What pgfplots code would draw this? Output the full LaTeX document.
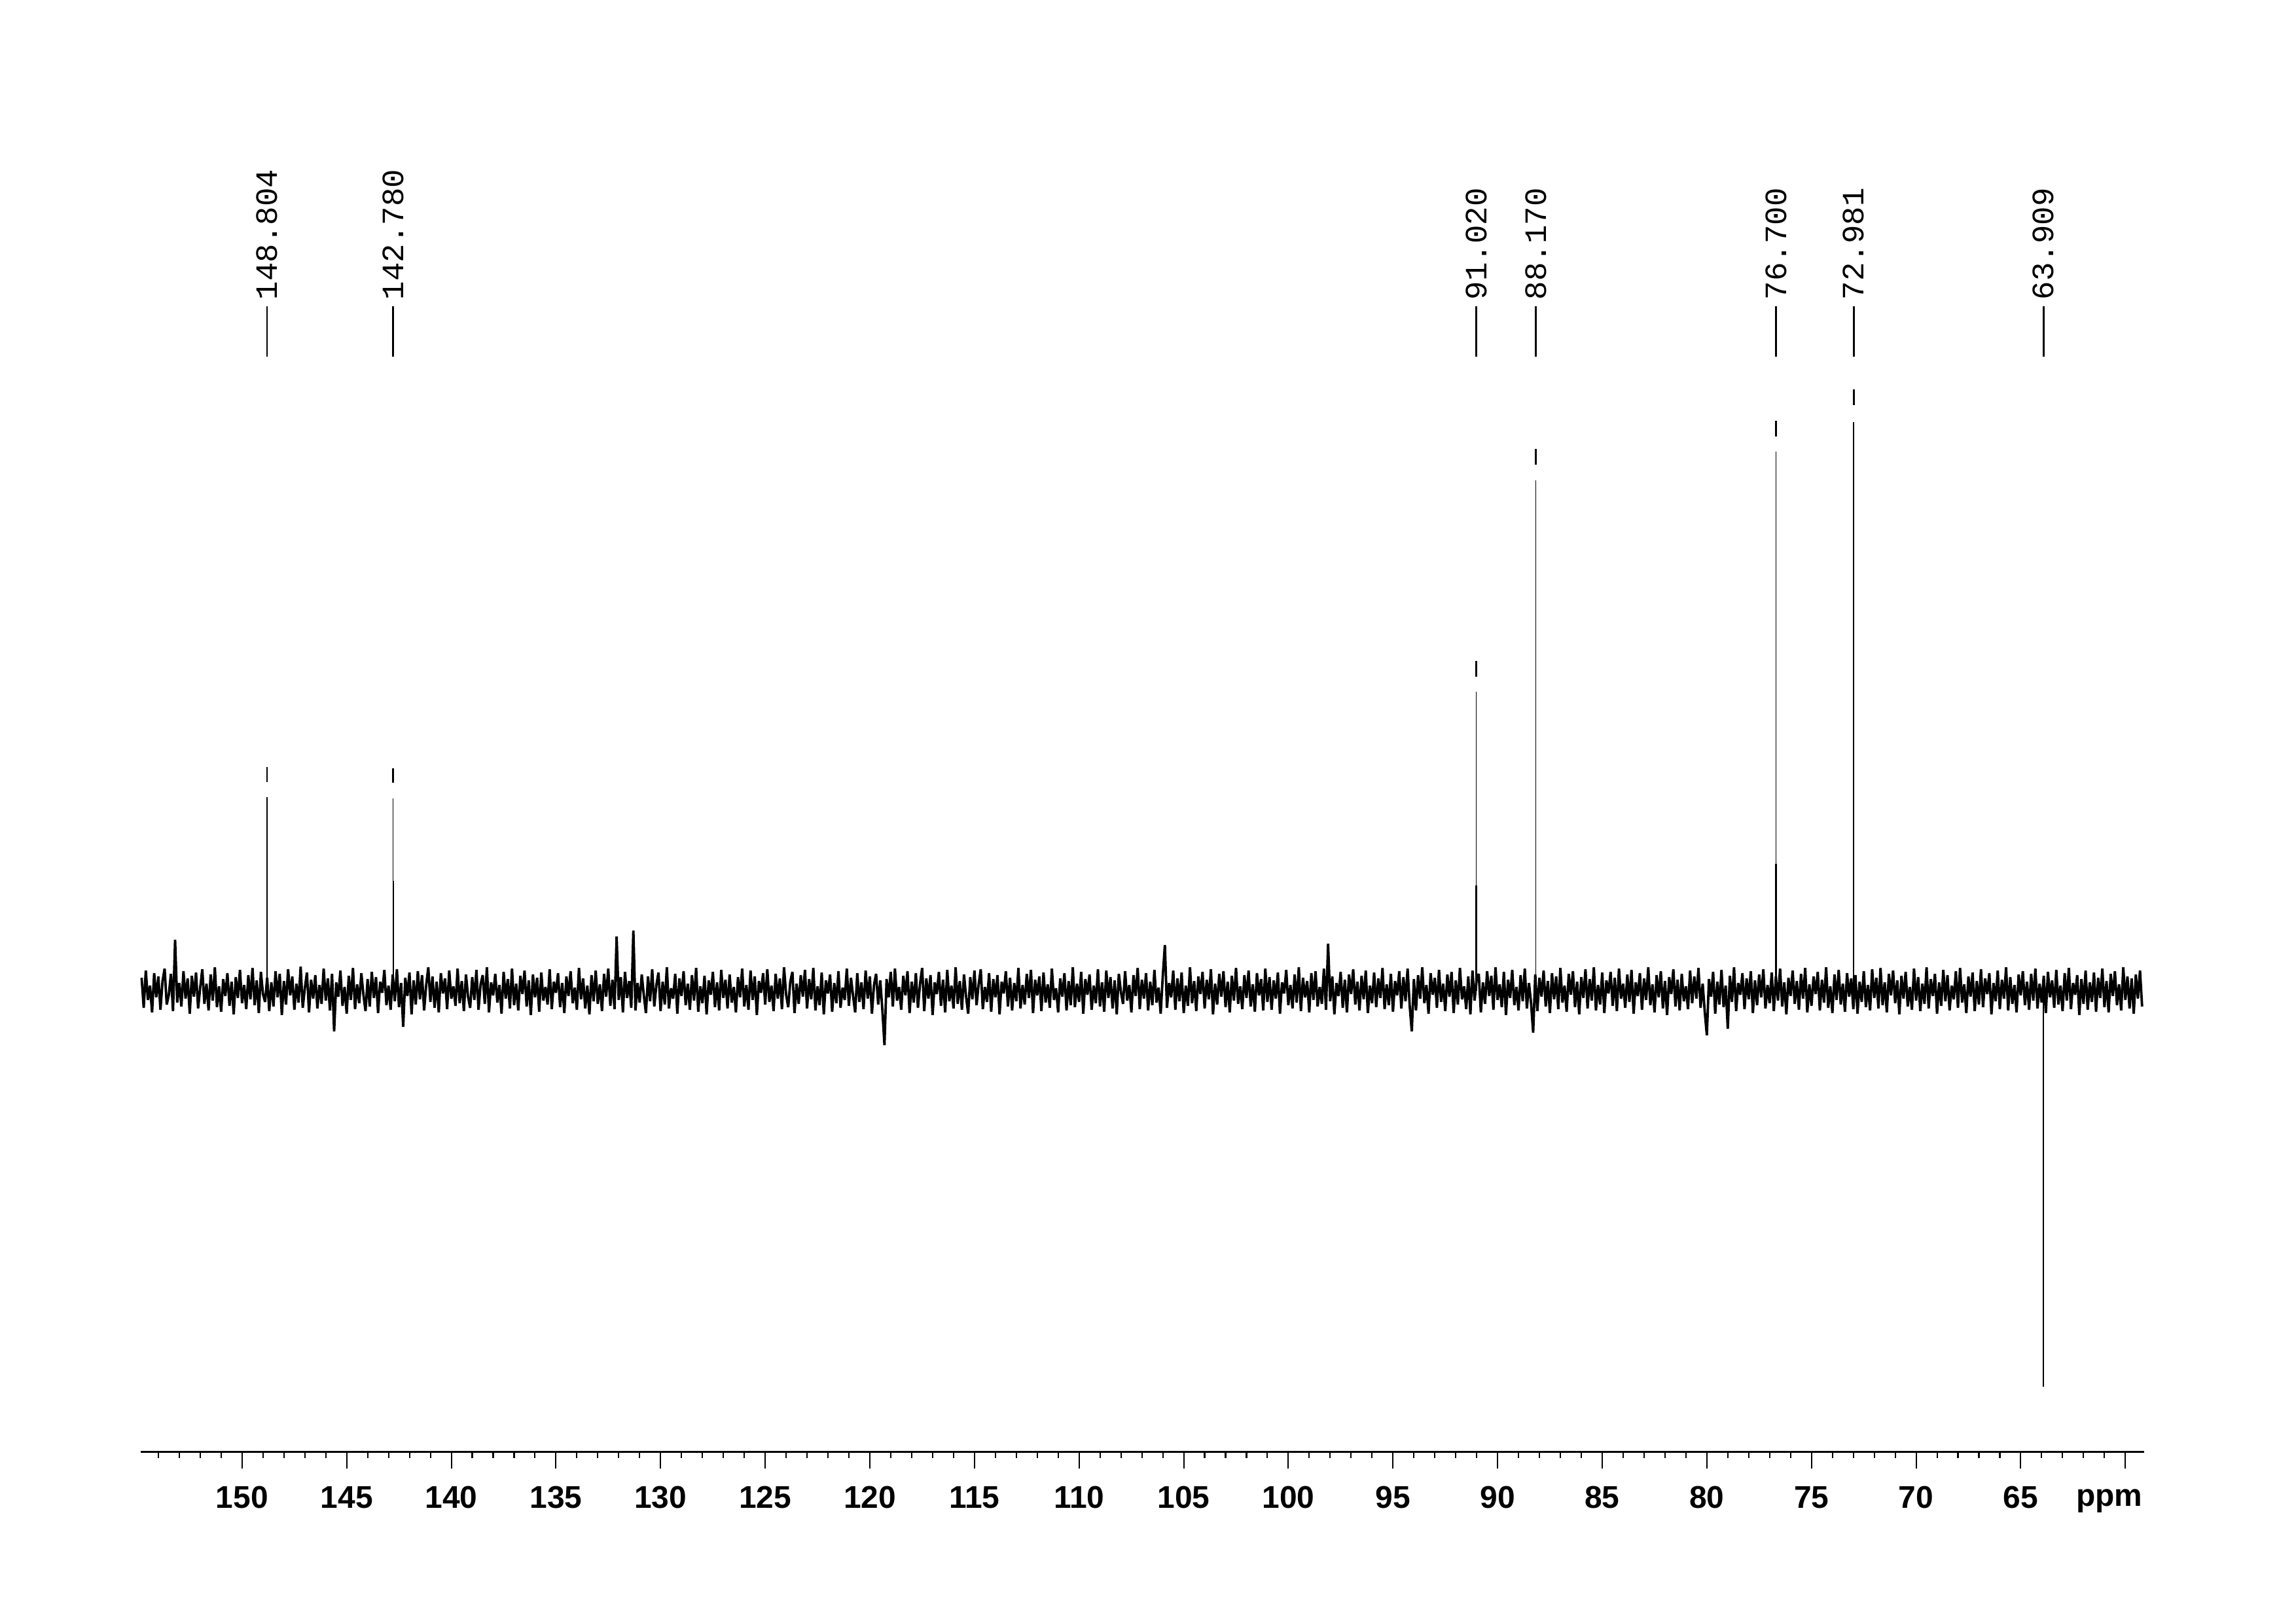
\documentclass[border=0pt]{standalone}
\usepackage{fontspec}
\setmainfont{Liberation Sans}
\newfontfamily\monofont{Liberation Mono}
\usepackage{pgfplots}
\pgfplotsset{compat=1.18}
\usepackage{pgfplotstable}

\pgfplotstableread{
x y
154.8 20
154.7 -26
154.6 31
154.5 -14
154.4 8
154.3 -33
154.2 27
154.1 -10
154.0 22
153.9 -29
153.8 15
153.7 34
153.6 -21
153.5 -6
153.4 26
153.3 -31
153.2 78
153.1 -18
153.0 12
152.9 -24
152.8 30
152.7 -12
152.6 19
152.5 -35
152.4 23
152.3 -9
152.2 28
152.1 -27
152.0 5
151.9 33
151.8 -20
151.7 11
151.6 -30
151.5 25
151.4 -15
151.3 36
151.2 -25
151.1 7
151.0 -32
150.9 18
150.8 -8
150.7 27
150.6 -23
150.5 14
150.4 -36
150.3 21
150.2 -11
150.1 32
150.0 -19
149.9 9
149.8 -28
149.7 24
149.6 -13
149.5 35
149.4 -22
149.3 16
149.2 -34
149.1 29
149.0 -5
148.9 -17
148.8 20
148.7 -31
148.6 13
148.5 -24
148.4 30
148.3 -10
148.2 26
148.1 -37
148.0 15
147.9 -21
147.8 33
147.7 -7
147.6 22
147.5 -29
147.4 11
147.3 -18
147.2 37
147.1 -26
147.0 4
146.9 28
146.8 -33
146.7 17
146.6 -12
146.5 24
146.4 -27
146.3 9
146.2 -20
146.1 34
146.0 -15
145.9 19
145.8 -30
145.7 26
145.6 -62
145.5 13
145.4 -9
145.3 31
145.2 -23
145.1 6
145.0 -35
144.9 23
144.8 -14
144.7 35
144.6 -28
144.5 10
144.4 -19
144.3 27
144.2 -6
144.1 -31
144.0 18
143.9 -24
143.8 29
143.7 -11
143.6 21
143.5 -34
143.4 14
143.3 -3
143.2 32
143.1 -22
143.0 8
142.9 -29
142.8 25
142.7 -16
142.6 33
142.5 -25
142.4 12
142.3 -55
142.2 20
142.1 -8
142.0 28
141.9 -36
141.8 16
141.7 -21
141.6 30
141.5 -13
141.4 24
141.3 -30
141.2 9
141.1 36
141.0 -17
140.9 22
140.8 -26
140.7 14
140.6 -33
140.5 27
140.4 -4
140.3 19
140.2 -28
140.1 31
140.0 -12
139.9 7
139.8 -23
139.7 34
139.6 -19
139.5 15
139.4 -31
139.3 25
139.2 -9
139.1 -26
139.0 21
138.9 -14
138.8 32
138.7 -29
138.6 10
138.5 24
138.4 -20
138.3 36
138.2 -33
138.1 13
138.0 -7
137.9 26
137.8 -18
137.7 9
137.6 -35
137.5 29
137.4 -12
137.3 18
137.2 -27
137.1 34
137.0 -22
136.9 11
136.8 -30
136.7 23
136.6 -5
136.5 31
136.4 -24
136.3 16
136.2 -37
136.1 25
136.0 -10
135.9 20
135.8 -32
135.7 28
135.6 -15
135.5 6
135.4 -21
135.3 33
135.2 -28
135.1 14
135.0 -3
134.9 27
134.8 -25
134.7 12
134.6 -34
134.5 22
134.4 -8
134.3 30
134.2 -19
134.1 5
134.0 -29
133.9 35
133.8 -13
133.7 19
133.6 -27
133.5 8
133.4 -36
133.3 24
133.2 -16
133.1 31
133.0 -20
132.9 10
132.8 -31
132.7 26
132.6 -9
132.5 34
132.4 -23
132.3 17
132.2 -28
132.1 83
132.0 -14
131.9 21
131.8 -33
131.7 29
131.6 -11
131.5 15
131.4 -26
131.3 92
131.2 -30
131.1 12
131.0 -18
130.9 25
130.8 -7
130.7 -34
130.6 22
130.5 -16
130.4 33
130.3 -24
130.2 9
130.1 28
130.0 -31
129.9 14
129.8 -21
129.7 36
129.6 -27
129.5 4
129.4 -12
129.3 26
129.2 -35
129.1 19
129.0 -8
128.9 30
128.8 -22
128.7 11
128.6 -29
128.5 24
128.4 -15
128.3 35
128.2 -32
128.1 7
128.0 -19
127.9 23
127.8 -36
127.7 16
127.6 -6
127.5 29
127.4 -25
127.3 13
127.2 -30
127.1 32
127.0 -11
126.9 17
126.8 -27
126.7 25
126.6 -18
126.5 6
126.4 -33
126.3 21
126.2 -10
126.1 34
126.0 -24
125.9 9
125.8 -29
125.7 31
125.6 -14
125.5 22
125.4 -37
125.3 15
125.2 -3
125.1 27
125.0 -21
124.9 33
124.8 -17
124.7 8
124.6 -31
124.5 26
124.4 -12
124.3 19
124.2 -28
124.1 36
124.0 -6
123.9 -25
123.8 14
123.7 29
123.6 -34
123.5 11
123.4 -20
123.3 24
123.2 -9
123.1 32
123.0 -27
122.9 18
122.8 -13
122.7 35
122.6 -30
122.5 7
122.4 -22
122.3 28
122.2 -36
122.1 16
122.0 -4
121.9 25
121.8 -32
121.7 12
121.6 -19
121.5 30
121.4 -26
121.3 5
121.2 -14
121.1 34
121.0 -23
120.9 20
120.8 -8
120.7 -33
120.6 27
120.5 -17
120.4 13
120.3 -28
120.2 31
120.1 -12
120.0 22
119.9 -35
119.8 9
119.7 26
119.6 -21
119.5 16
119.4 -30
119.3 -83
119.2 18
119.1 -10
119.0 29
118.9 -24
118.8 34
118.7 -15
118.6 6
118.5 -29
118.4 23
118.3 -7
118.2 30
118.1 -34
118.0 14
117.9 -18
117.8 27
117.7 -26
117.6 11
117.5 35
117.4 -31
117.3 19
117.2 -12
117.1 24
117.0 -37
116.9 13
116.8 -5
116.7 29
116.6 -23
116.5 17
116.4 -33
116.3 32
116.2 -16
116.1 8
116.0 -27
115.9 36
115.8 -20
115.7 15
115.6 -29
115.5 25
115.4 -9
115.3 -35
115.2 21
115.1 -13
115.0 31
114.9 -22
114.8 10
114.7 33
114.6 -28
114.5 6
114.4 -17
114.3 27
114.2 -32
114.1 18
114.0 -10
113.9 24
113.8 -36
113.7 14
113.6 -4
113.5 30
113.4 -24
113.3 20
113.2 -30
113.1 12
113.0 -16
112.9 35
112.8 -27
112.7 9
112.6 -21
112.5 26
112.4 -11
112.3 32
112.2 -34
112.1 17
112.0 -7
111.9 22
111.8 -31
111.7 28
111.6 -18
111.5 10
111.4 -26
111.3 34
111.2 -14
111.1 4
111.0 -33
110.9 19
110.8 -9
110.7 27
110.6 -30
110.5 15
110.4 -22
110.3 36
110.2 -25
110.1 11
110.0 -17
109.9 29
109.8 -35
109.7 18
109.6 -6
109.5 25
109.4 -29
109.3 8
109.2 -19
109.1 33
109.0 -24
108.9 13
108.8 -32
108.7 31
108.6 -11
108.5 21
108.4 -27
108.3 16
108.2 -36
108.1 26
108.0 -2
107.9 -20
107.8 30
107.7 -15
107.6 9
107.5 -33
107.4 24
107.3 -8
107.2 35
107.1 -28
107.0 17
106.9 -12
106.8 27
106.7 -30
106.6 14
106.5 -22
106.4 32
106.3 -18
106.2 5
106.1 -35
106.0 23
105.9 70
105.8 -26
105.7 12
105.6 -10
105.5 31
105.4 -29
105.3 19
105.2 -16
105.1 28
105.0 -34
104.9 8
104.8 -23
104.7 36
104.6 -19
104.5 15
104.4 -31
104.3 22
104.2 -5
104.1 29
104.0 -27
103.9 17
103.8 -13
103.7 33
103.6 -36
103.5 11
103.4 -21
103.3 26
103.2 -9
103.1 30
103.0 -25
102.9 14
102.8 -33
102.7 23
102.6 -15
102.5 35
102.4 -20
102.3 7
102.2 -28
102.1 24
102.0 -11
101.9 31
101.8 -24
101.7 10
101.6 -32
101.5 27
101.4 -7
101.3 18
101.2 -30
101.1 34
101.0 -17
100.9 21
100.8 -29
100.7 16
100.6 -12
100.5 28
100.4 -35
100.3 13
100.2 -4
100.1 32
100.0 -22
99.9 9
99.8 -27
99.7 25
99.6 -18
99.5 36
99.4 -31
99.3 20
99.2 -10
99.1 15
99.0 -33
98.9 27
98.8 -14
98.7 30
98.6 -24
98.5 6
98.4 -20
98.3 34
98.2 -29
98.1 72
98.0 -16
97.9 22
97.8 -36
97.7 12
97.6 -8
97.5 29
97.4 -26
97.3 17
97.2 -33
97.1 25
97.0 -5
96.9 33
96.8 -21
96.7 14
96.6 -30
96.5 23
96.4 -13
96.3 31
96.2 -34
96.1 8
96.0 -19
95.9 28
95.8 -25
95.7 19
95.6 -11
95.5 35
95.4 -28
95.3 10
95.2 -22
95.1 26
95.0 -32
94.9 15
94.8 -7
94.7 30
94.6 -27
94.5 21
94.4 -16
94.3 34
94.2 -23
94.1 -62
94.0 18
93.9 -30
93.8 24
93.7 -12
93.6 36
93.5 -19
93.4 9
93.3 -35
93.2 27
93.1 -6
93.0 20
92.9 -26
92.8 32
92.7 -17
92.6 11
92.5 -31
92.4 25
92.3 -9
92.2 29
92.1 -34
92.0 16
91.9 -21
91.8 35
91.7 -13
91.6 7
91.5 -28
91.4 22
91.3 -36
91.2 31
91.1 -15
91.0 18
90.9 26
90.8 -33
90.7 13
90.6 -20
90.5 30
90.4 -8
90.3 23
90.2 -29
90.1 36
90.0 -14
89.9 10
89.8 -25
89.7 29
89.6 -37
89.5 17
89.4 -11
89.3 32
89.2 -22
89.1 6
89.0 -30
88.9 24
88.8 -16
88.7 34
88.6 -27
88.5 12
88.4 -19
88.3 -64
88.2 25
88.1 -31
88.0 20
87.9 -9
87.8 31
87.7 -24
87.6 15
87.5 -34
87.4 27
87.3 -13
87.2 22
87.1 -28
87.0 35
86.9 -18
86.8 8
86.7 -32
86.6 26
86.5 -6
86.4 30
86.3 -25
86.2 14
86.1 -36
86.0 21
85.9 -11
85.8 33
85.7 -27
85.6 18
85.5 -15
85.4 36
85.3 -30
85.2 9
85.1 -21
85.0 28
84.9 -34
84.8 16
84.7 -4
84.6 29
84.5 -23
84.4 20
84.3 -31
84.2 34
84.1 -12
84.0 11
83.9 -26
83.8 25
83.7 -17
83.6 32
83.5 -35
83.4 13
83.3 -8
83.2 27
83.1 -29
83.0 19
82.9 -14
82.8 36
82.7 -22
82.6 10
82.5 -33
82.4 24
82.3 -10
82.2 30
82.1 -27
82.0 15
81.9 -37
81.8 21
81.7 -5
81.6 33
81.5 -24
81.4 17
81.3 -30
81.2 26
81.1 -16
81.0 7
80.9 -28
80.8 31
80.7 -19
80.6 22
80.5 -12
80.4 35
80.3 -26
80.2 11
80.1 -32
80.0 -68
79.9 18
79.8 -9
79.7 29
79.6 -35
79.5 14
79.4 -21
79.3 32
79.2 -25
79.1 8
79.0 -58
78.9 23
78.8 -17
78.7 36
78.6 -31
78.5 12
78.4 -6
78.3 27
78.2 -28
78.1 19
78.0 -13
77.9 30
77.8 -34
77.7 16
77.6 -22
77.5 25
77.4 -10
77.3 33
77.2 -27
77.1 9
77.0 -19
76.9 28
76.8 -31
76.7 22
76.6 -15
76.5 34
76.4 -24
76.3 13
76.2 -36
76.1 20
76.0 -8
75.9 31
75.8 -20
75.7 15
75.6 -29
75.5 26
75.4 -12
75.3 35
75.2 -33
75.1 10
75.0 -23
74.9 22
74.8 -5
74.7 29
74.6 -30
74.5 17
74.4 -18
74.3 36
74.2 -26
74.1 7
74.0 -34
73.9 25
73.8 -14
73.7 32
73.6 -21
73.5 11
73.4 -32
73.3 27
73.2 -9
73.1 19
73.0 -28
72.9 24
72.8 -35
72.7 14
72.6 -17
72.5 30
72.4 -25
72.3 9
72.2 -30
72.1 33
72.0 -11
71.9 20
71.8 -27
71.7 35
71.6 -22
71.5 13
71.4 -33
71.3 26
71.2 -7
71.1 31
71.0 -19
70.9 16
70.8 -36
70.7 23
70.6 -12
70.5 29
70.4 -24
70.3 6
70.2 -29
70.1 34
70.0 -15
69.9 21
69.8 -31
69.7 11
69.6 -20
69.5 36
69.4 -27
69.3 18
69.2 -8
69.1 26
69.0 -35
68.9 13
68.8 -23
68.7 32
68.6 -16
68.5 24
68.4 -30
68.3 8
68.2 -13
68.1 30
68.0 -26
67.9 35
67.8 -18
67.7 10
67.6 -34
67.5 22
67.4 -9
67.3 28
67.2 -31
67.1 15
67.0 -21
66.9 33
66.8 -25
66.7 19
66.6 -5
66.5 27
66.4 -36
66.3 12
66.2 -16
66.1 31
66.0 -28
65.9 17
65.8 -12
65.7 36
65.6 -30
65.5 21
65.4 -20
65.3 9
65.2 -33
65.1 25
65.0 -7
64.9 30
64.8 -22
64.7 14
64.6 -29
64.5 26
64.4 -15
64.3 34
64.2 -27
64.1 11
64.0 -18
63.9 23
63.8 -34
63.7 29
63.6 -10
63.5 16
63.4 -26
63.3 32
63.2 -21
63.1 8
63.0 -31
62.9 27
62.8 -15
62.7 35
62.6 -28
62.5 12
62.4 -6
62.3 24
62.2 -37
62.1 18
62.0 -20
61.9 31
61.8 -29
61.7 13
61.6 -17
61.5 28
61.4 -32
61.3 20
61.2 -11
61.1 34
61.0 -25
60.9 15
60.8 -33
60.7 26
60.6 -8
60.5 30
60.4 -22
60.3 10
60.2 -30
60.1 36
60.0 -14
59.9 22
59.8 -27
59.7 19
59.6 -35
59.5 25
59.4 -12
59.3 31
59.2 -24
}\spec

\begin{document}
\begin{tikzpicture}
\useasboundingbox (-51.6pt,-62.53pt) rectangle (790.4pt,532.5pt);
\begin{axis}[
  at={(0pt,0pt)}, anchor=south west,
  scale only axis, width=734.7pt, height=532.5pt,
  xmin=59.104, xmax=154.845, ymin=-704.5, ymax=1514,
  x dir=reverse,
  axis x line=bottom, axis y line=none,
  x axis line style={-, line width=0.64pt},
  xtick={60,65,...,150},
  xticklabels={,65,70,75,80,85,90,95,100,105,110,115,120,125,130,135,140,145,150},
  minor xtick={61,62,...,154},
  xtick align=outside,
  major tick length=6pt, minor tick length=2.2pt,
  tick style={black, line width=0.5pt},
  xticklabel style={font=\fontsize{11.5}{13}\selectfont\bfseries, anchor=base, yshift=-14.6pt},
  clip=false,
]
% baseline noise
\addplot[black, line width=0.9pt, line join=bevel] table {\spec};
% peaks
\addplot[black, line width=0.3pt] coordinates {(148.804,0) (148.804,296)};
\addplot[black, line width=0.3pt] coordinates {(142.780,0) (142.780,294)};
\addplot[black, line width=0.3pt] coordinates {(91.020,0) (91.020,457)};
\addplot[black, line width=0.3pt] coordinates {(88.170,0) (88.170,780)};
\addplot[black, line width=0.3pt] coordinates {(76.700,0) (76.700,824)};
\addplot[black, line width=0.4pt] coordinates {(72.981,0) (72.981,869)};
\addplot[black, line width=0.4pt] coordinates {(63.909,0) (63.909,-605)};
% thicker lower parts of peaks
\addplot[black, line width=0.55pt] coordinates {(142.780,0) (142.780,168)};
\addplot[black, line width=0.55pt] coordinates {(91.020,0) (91.020,161)};
\addplot[black, line width=0.55pt] coordinates {(76.700,0) (76.700,194)};
% peak tips
\addplot[black, line width=0.6pt] coordinates {(148.804,319) (148.804,342)};
\addplot[black, line width=0.6pt] coordinates {(142.780,318) (142.780,340)};
\addplot[black, line width=0.6pt] coordinates {(91.020,480) (91.020,504)};
\addplot[black, line width=0.6pt] coordinates {(88.170,804) (88.170,828)};
\addplot[black, line width=0.6pt] coordinates {(76.700,847) (76.700,871)};
\addplot[black, line width=0.6pt] coordinates {(72.981,895) (72.981,919)};
% label lines
\addplot[black, line width=0.6pt] coordinates {(148.804,969) (148.804,1046)};
\addplot[black, line width=0.6pt] coordinates {(142.780,969) (142.780,1046)};
\addplot[black, line width=0.6pt] coordinates {(91.020,969) (91.020,1046)};
\addplot[black, line width=0.6pt] coordinates {(88.170,969) (88.170,1046)};
\addplot[black, line width=0.6pt] coordinates {(76.700,969) (76.700,1046)};
\addplot[black, line width=0.6pt] coordinates {(72.981,969) (72.981,1046)};
\addplot[black, line width=0.6pt] coordinates {(63.909,969) (63.909,1046)};
\begin{scope}[every node/.style={rotate=90, anchor=west, inner sep=0pt, font=\monofont\fontsize{11.4}{12}\selectfont}]
\node at (axis cs:148.804,1055) {148.804};
\node at (axis cs:142.780,1055) {142.780};
\node at (axis cs:91.020,1055) {91.020};
\node at (axis cs:88.170,1055) {88.170};
\node at (axis cs:76.700,1055) {76.700};
\node at (axis cs:72.981,1055) {72.981};
\node at (axis cs:63.909,1055) {63.909};
\end{scope}
\node[anchor=base, inner sep=0pt, font=\fontsize{11.5}{13}\selectfont\bfseries] at (axis cs:60.77,-704.5) [yshift=-20pt] {ppm};
\end{axis}
\end{tikzpicture}
\end{document}
